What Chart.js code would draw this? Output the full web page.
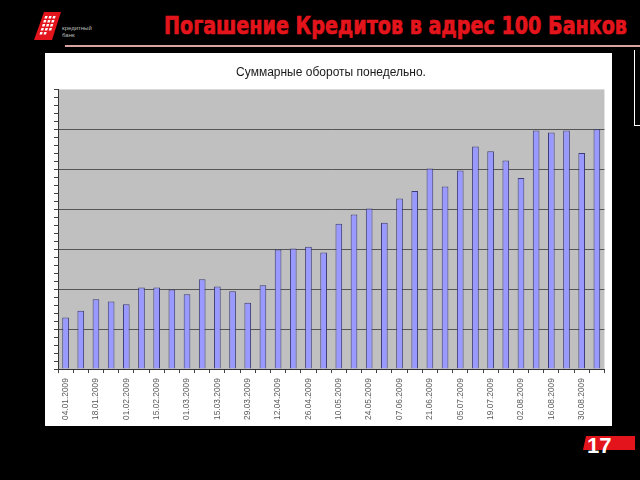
<!DOCTYPE html>
<html>
<head>
<meta charset="utf-8">
<script src="https://cdn.jsdelivr.net/npm/chart.js@4.4.1/dist/chart.umd.min.js"></script>
<style>
    html, body { margin: 0; padding: 0; background: #000; width: 640px; height: 480px; overflow: hidden; }
    body { position: relative; font-family: 'Liberation Sans', Arial, sans-serif; }
    #logo { position: absolute; left: 32px; top: 10px; }
    #logoText { position: absolute; left: 62px; top: 25px; color: #bdbdbd; font-size: 6px; line-height: 7px; }
    #pageTitle { position: absolute; left: 164px; top: 13.6px; color: #e3141b; font: bold 24px/24px 'DejaVu Sans', sans-serif; white-space: nowrap; transform-origin: 0 0; -webkit-text-stroke: 0.7px #e3141b; }
    #rule { position: absolute; left: 65px; top: 45px; width: 575px; height: 2px; background: #d7a3a3; }
    #bracket { position: absolute; left: 634px; top: 50px; width: 6px; height: 75px; border-left: 1px solid #fff; border-bottom: 1px solid #fff; }
    #chart { position: absolute; left: 45px; top: 53px; background: #fff; }
    #pageBox { position: absolute; left: 583px; top: 436px; width: 52px; height: 14px; background: #e3141b; clip-path: polygon(3px 0, 100% 0, 100% 100%, 0 100%); }
    #pageNum { position: absolute; left: 587px; top: 435px; color: #fff; font: bold 22px/22px 'Liberation Sans', Arial, sans-serif; }
</style>
</head>
<body>
<svg id="logo" width="32" height="32" viewBox="0 0 32 32">
    <polygon points="12,2 29,2 20,30 2,30" fill="#e3141b"/>
    <g fill="#fff" transform="skewX(-17)">
        <rect x="15" y="6" width="2.5" height="2.5"/><rect x="19" y="6" width="2.5" height="2.5"/><rect x="23" y="6" width="2.5" height="2.5"/>
        <rect x="15" y="10" width="2.5" height="2.5"/><rect x="19" y="10" width="2.5" height="2.5"/><rect x="23" y="10" width="2.5" height="2.5"/>
        <rect x="15" y="14" width="2.5" height="2.5"/><rect x="19" y="14" width="2.5" height="2.5"/><rect x="23" y="14" width="2.5" height="2.5"/>
        <rect x="15" y="18" width="2.5" height="2.5"/><rect x="19" y="18" width="2.5" height="2.5"/><rect x="23" y="18" width="2.5" height="2.5"/>
        <rect x="15" y="22" width="2.5" height="2.5"/><rect x="19" y="22" width="2.5" height="2.5"/>
    </g>
</svg>
<div id="logoText">кредитный<br>банк</div>
<div id="pageTitle">Погашение Кредитов в адрес 100 Банков</div>
<div id="rule"></div>
<div id="bracket"></div>
<canvas id="chart" width="567" height="373"></canvas>
<div id="pageBox"></div>
<div id="pageNum">17</div>

<script>
// Недели (понедельники) 2009 года
const weekLabels = [
    '04.01.2009', '11.01.2009', '18.01.2009', '25.01.2009', '01.02.2009', '08.02.2009',
    '15.02.2009', '22.02.2009', '01.03.2009', '08.03.2009', '15.03.2009', '22.03.2009',
    '29.03.2009', '05.04.2009', '12.04.2009', '19.04.2009', '26.04.2009', '03.05.2009',
    '10.05.2009', '17.05.2009', '24.05.2009', '31.05.2009', '07.06.2009', '14.06.2009',
    '21.06.2009', '28.06.2009', '05.07.2009', '12.07.2009', '19.07.2009', '26.07.2009',
    '02.08.2009', '09.08.2009', '16.08.2009', '23.08.2009', '30.08.2009', '06.09.2009'
];

// Суммарные обороты (в условных делениях шкалы)
const turnover = [
    1.29, 1.46, 1.75, 1.69, 1.62, 2.04,
    2.04, 1.99, 1.87, 2.25, 2.07, 1.95,
    1.66, 2.10, 2.99, 3.02, 3.06, 2.92,
    3.64, 3.87, 4.02, 3.66, 4.27, 4.46,
    5.02, 4.57, 4.97, 5.57, 5.45, 5.22,
    4.78, 5.97, 5.92, 5.97, 5.41, 6.00
];

const yMin = 0;
const yMax = 7;
const yMinorStep = 0.2;

// подогнать ширину заголовка слайда
const pageTitle = document.getElementById('pageTitle');
pageTitle.style.transform = `scaleX(${463 / pageTitle.offsetWidth})`;

function isWhole(v) {
    return Math.abs(v - Math.round(v)) < 1e-6;
}

// серый фон области построения, как в Excel
const plotBackground = {
    id: 'plotBackground',
    beforeDraw(chart) {
        const { ctx, chartArea: a } = chart;
        ctx.save();
        ctx.fillStyle = '#c0c0c0';
        ctx.fillRect(a.left, a.top, a.width, a.height);
        ctx.restore();
    }
};

Chart.defaults.font.family = "'Liberation Sans', Arial, sans-serif";

new Chart(document.getElementById('chart'), {
    type: 'bar',
    data: {
        labels: weekLabels,
        datasets: [{
            data: turnover,
            backgroundColor: '#9999ff',
            borderColor: '#3c3c78',
            borderWidth: 1,
            barPercentage: 0.44,
            categoryPercentage: 1
        }]
    },
    options: {
        responsive: false,
        animation: false,
        layout: { padding: { left: 9, right: 4, top: 0, bottom: 1 } },
        plugins: {
            legend: { display: false },
            tooltip: { enabled: false },
            title: {
                display: true,
                text: 'Суммарные обороты понедельно.',
                color: '#1a1a1a',
                font: { size: 12, weight: 'normal' },
                padding: { top: 12, bottom: 10 }
            }
        },
        scales: {
            x: {
                grid: { offset: true, drawOnChartArea: false, tickLength: 4, tickColor: '#444' },
                border: { color: '#333' },
                ticks: {
                    autoSkip: false,
                    minRotation: 90,
                    maxRotation: 90,
                    padding: 5,
                    color: '#5a5a5a',
                    font: { size: 8.4 },
                    callback: function (value, index) {
                        return index % 2 === 0 ? this.getLabelForValue(value) : '';
                    }
                }
            },
            y: {
                min: yMin,
                max: yMax,
                grid: {
                    color: ctx => (ctx.tick && isWhole(ctx.tick.value) && ctx.tick.value > yMin && ctx.tick.value < yMax) ? '#555' : 'rgba(0,0,0,0)',
                    tickLength: 4,
                    tickColor: '#444'
                },
                border: { color: '#333' },
                ticks: { display: false, stepSize: yMinorStep, maxTicksLimit: 100 }
            }
        }
    },
    plugins: [plotBackground]
});
</script>
</body>
</html>
